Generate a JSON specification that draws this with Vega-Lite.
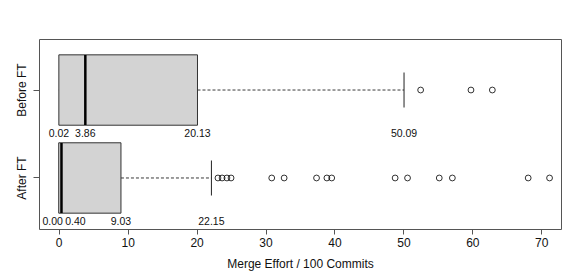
{
  "$schema": "https://vega.github.io/schema/vega-lite/v6.json",
  "width": 522,
  "height": 190,
  "autosize": "none",
  "padding": {"left": 39, "top": 39, "right": 20, "bottom": 48},
  "background": "white",
  "config": {
    "view": {"stroke": "#555", "strokeWidth": 1},
    "font": "Liberation Sans",
    "axis": {"labelFont": "Liberation Sans", "titleFont": "Liberation Sans", "labelColor": "#111", "titleColor": "#111", "tickColor": "#555", "grid": false, "domain": false}
  },
  "datasets": {
    "boxes": [
      {"group": "Before FT", "lo": 0.0, "q1": 0.02, "median": 3.86, "q3": 20.13, "hi": 50.09},
      {"group": "After FT", "lo": 0.0, "q1": 0.0, "median": 0.40, "q3": 9.03, "hi": 22.15}
    ],
    "outliers": [
      {"group": "Before FT", "value": 52.5},
      {"group": "Before FT", "value": 59.8},
      {"group": "Before FT", "value": 62.9},
      {"group": "After FT", "value": 23.1},
      {"group": "After FT", "value": 23.7},
      {"group": "After FT", "value": 24.4},
      {"group": "After FT", "value": 25.0},
      {"group": "After FT", "value": 30.9},
      {"group": "After FT", "value": 32.7},
      {"group": "After FT", "value": 37.4},
      {"group": "After FT", "value": 38.9},
      {"group": "After FT", "value": 39.6},
      {"group": "After FT", "value": 48.8},
      {"group": "After FT", "value": 50.6},
      {"group": "After FT", "value": 55.2},
      {"group": "After FT", "value": 57.1},
      {"group": "After FT", "value": 68.1},
      {"group": "After FT", "value": 71.2}
    ],
    "labels": [
      {"group": "Before FT", "value": 0.02, "label": "0.02", "kind": "normal"},
      {"group": "Before FT", "value": 3.86, "label": "3.86", "kind": "normal"},
      {"group": "Before FT", "value": 20.13, "label": "20.13", "kind": "normal"},
      {"group": "Before FT", "value": 50.09, "label": "50.09", "kind": "normal"},
      {"group": "After FT", "value": 0.0, "label": "0.00", "kind": "left"},
      {"group": "After FT", "value": 0.40, "label": "0.40", "kind": "right"},
      {"group": "After FT", "value": 9.03, "label": "9.03", "kind": "normal"},
      {"group": "After FT", "value": 22.15, "label": "22.15", "kind": "normal"}
    ]
  },
  "encoding": {
    "y": {
      "field": "group", "type": "nominal", "sort": ["Before FT", "After FT"],
      "scale": {"paddingInner": 0.2, "paddingOuter": 0.18},
      "axis": {"title": null, "labelAngle": 270, "labelAlign": "center", "labelBaseline": "bottom", "labelFontSize": 12, "tickSize": 6, "labelPadding": 5}
    }
  },
  "layer": [
    {
      "data": {"name": "boxes"},
      "mark": {"type": "rule", "strokeDash": [3, 2], "color": "#222", "strokeWidth": 0.9},
      "encoding": {
        "x": {"field": "q3", "type": "quantitative",
          "scale": {"domain": [-2.86, 72.86], "nice": false, "zero": false},
          "axis": {"title": "Merge Effort / 100 Commits", "values": [0, 10, 20, 30, 40, 50, 60, 70], "labelFontSize": 12, "titleFontSize": 12, "titleFontWeight": "normal", "tickSize": 5, "labelPadding": 3, "titlePadding": 10}},
        "x2": {"field": "hi"}
      }
    },
    {
      "data": {"name": "boxes"},
      "mark": {"type": "rule", "strokeDash": [3, 2], "color": "#222", "strokeWidth": 0.9},
      "encoding": {
        "x": {"field": "lo", "type": "quantitative"},
        "x2": {"field": "q1"}
      }
    },
    {
      "data": {"name": "boxes"},
      "mark": {"type": "tick", "orient": "vertical", "size": 35, "thickness": 1, "color": "#222", "opacity": 1},
      "encoding": {"x": {"field": "hi", "type": "quantitative"}}
    },
    {
      "data": {"name": "boxes"},
      "mark": {"type": "bar", "fill": "#D3D3D3", "stroke": "#333", "strokeWidth": 1, "opacity": 1},
      "encoding": {
        "x": {"field": "q1", "type": "quantitative"},
        "x2": {"field": "q3"}
      }
    },
    {
      "data": {"name": "boxes"},
      "mark": {"type": "tick", "orient": "vertical", "size": 70, "thickness": 2.5, "color": "black", "opacity": 1},
      "encoding": {"x": {"field": "median", "type": "quantitative"}}
    },
    {
      "data": {"name": "outliers"},
      "mark": {"type": "point", "shape": "circle", "filled": false, "size": 34, "stroke": "black", "strokeWidth": 0.8, "opacity": 1},
      "encoding": {"x": {"field": "value", "type": "quantitative"}}
    },
    {
      "data": {"name": "labels"},
      "transform": [{"filter": "datum.kind == 'normal'"}],
      "mark": {"type": "text", "fontSize": 10.5, "baseline": "middle", "align": "center", "dy": 9, "color": "#111"},
      "encoding": {
        "x": {"field": "value", "type": "quantitative"},
        "y": {"field": "group", "type": "nominal", "sort": ["Before FT", "After FT"], "bandPosition": 1},
        "text": {"field": "label"}
      }
    },
    {
      "data": {"name": "labels"},
      "transform": [{"filter": "datum.kind == 'left'"}],
      "mark": {"type": "text", "fontSize": 10.5, "baseline": "middle", "align": "center", "dy": 9, "dx": -6, "color": "#111"},
      "encoding": {
        "x": {"field": "value", "type": "quantitative"},
        "y": {"field": "group", "type": "nominal", "sort": ["Before FT", "After FT"], "bandPosition": 1},
        "text": {"field": "label"}
      }
    },
    {
      "data": {"name": "labels"},
      "transform": [{"filter": "datum.kind == 'right'"}],
      "mark": {"type": "text", "fontSize": 10.5, "baseline": "middle", "align": "center", "dy": 9, "dx": 14, "color": "#111"},
      "encoding": {
        "x": {"field": "value", "type": "quantitative"},
        "y": {"field": "group", "type": "nominal", "sort": ["Before FT", "After FT"], "bandPosition": 1},
        "text": {"field": "label"}
      }
    }
  ]
}
